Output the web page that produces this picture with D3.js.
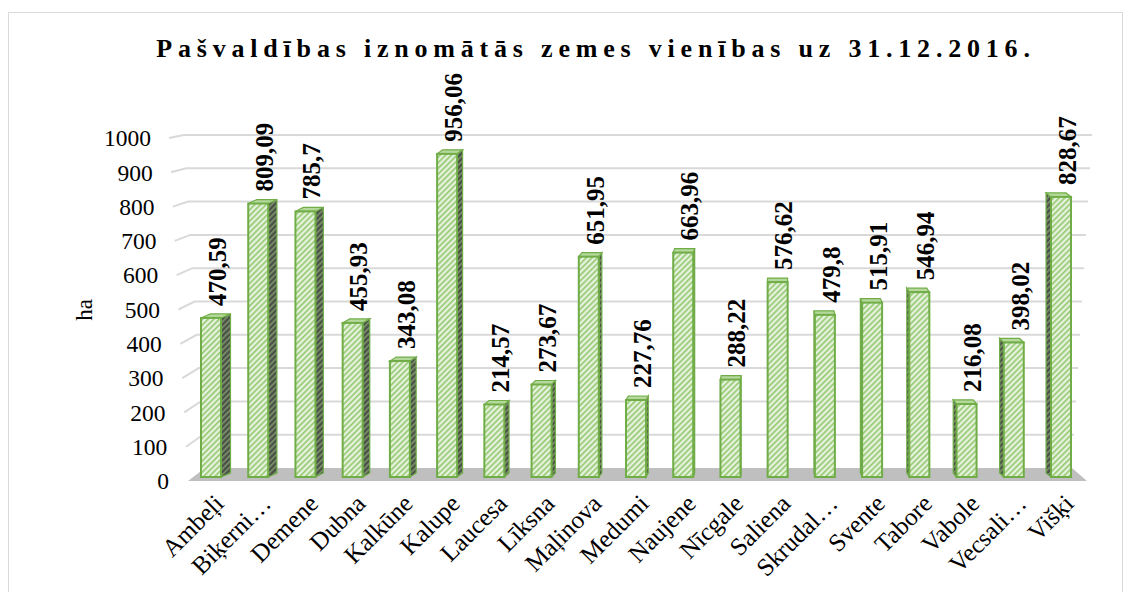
<!DOCTYPE html>
<html>
<head>
<meta charset="utf-8">
<script src="https://cdn.jsdelivr.net/npm/d3@7"></script>
<style>
  body { margin: 0; background: #fff; }
</style>
</head>
<body>
<script>
var svgWidth = 1130;
var svgHeight = 592;

// data
var categories = ["Ambeļi", "Biķerni…", "Demene", "Dubna", "Kalkūne", "Kalupe", "Laucesa",
  "Līksna", "Maļinova", "Medumi", "Naujene", "Nīcgale", "Saliena", "Skrudal…",
  "Svente", "Tabore", "Vabole", "Vecsali…", "Višķi"];
var values = [470.59, 809.09, 785.7, 455.93, 343.08, 956.06, 214.57, 273.67, 651.95,
  227.76, 663.96, 288.22, 576.62, 479.8, 515.91, 546.94, 216.08, 398.02, 828.67];
var yTicks = [0, 100, 200, 300, 400, 500, 600, 700, 800, 900, 1000];
var titleText = "Pašvaldības iznomātās zemes vienības uz 31.12.2016.";
var yTitle = "ha";

var serif = "'Liberation Serif', 'Times New Roman', 'DejaVu Serif', serif";

var svg = d3.select("body")
  .append("svg")
  .attr("width", svgWidth)
  .attr("height", svgHeight)
  .style("font-family", serif);

// patterns
var defs = svg.append("defs");
var pat = defs.append("pattern")
  .attr("id", "hatch")
  .attr("patternUnits", "userSpaceOnUse")
  .attr("width", 4).attr("height", 4)
  .attr("patternTransform", "rotate(45)");
pat.append("rect").attr("width", 4).attr("height", 4).attr("fill", "#e6f2dd");
pat.append("rect").attr("width", 1.6).attr("height", 4).attr("fill", "#92c86e");

var patSide = defs.append("pattern")
  .attr("id", "hatchSide")
  .attr("patternUnits", "userSpaceOnUse")
  .attr("width", 4).attr("height", 4)
  .attr("patternTransform", "rotate(45)");
patSide.append("rect").attr("width", 4).attr("height", 4).attr("fill", "#4a4f47");
patSide.append("rect").attr("width", 1.5).attr("height", 4).attr("fill", "#7f9a6d");

// outer border
svg.append("rect")
  .attr("x", 8.5).attr("y", 12.5)
  .attr("width", 1114).attr("height", 590)
  .attr("fill", "none")
  .attr("stroke", "#d9d9d9");

// scales (3D-ish: back wall, front edge, bars)
var yBack = d3.scaleLinear().domain([0, 1000]).range([468, 135]);
var yFront = d3.scaleLinear().domain([0, 1000]).range([481, 138]);
var yBar = d3.scaleLinear().domain([0, 1000]).range([477, 139]);
var xBackL = d3.scaleLinear().domain([0, 1000]).range([205, 184]);
var xBackR = d3.scaleLinear().domain([0, 1000]).range([1072, 1092]);
var xFrontL = d3.scaleLinear().domain([0, 1000]).range([188, 169]);
var xTickLab = d3.scaleLinear().domain([0, 1000]).range([169, 151]);
var x = d3.scalePoint().domain(categories).range([211, 1061]);

// gridlines
var grid = svg.append("g").attr("class", "grid");
yTicks.filter(function(d) { return d > 0; }).forEach(function(d) {
  grid.append("polyline")
    .attr("points", [[xFrontL(d), yFront(d)], [xBackL(d), yBack(d)], [xBackR(d), yBack(d)]].join(" "))
    .attr("fill", "none")
    .attr("stroke", "#d9d9d9")
    .attr("stroke-width", 2);
});

// floor
svg.append("polygon")
  .attr("points", [[xBackL(0), yBack(0)], [xBackR(0), yBack(0)], [1087, yFront(0)], [xFrontL(0), yFront(0)]].join(" "))
  .attr("fill", "#bfbfbf");

// y tick labels
svg.append("g").selectAll("text")
  .data(yTicks)
  .join("text")
  .attr("x", function(d) { return xTickLab(d); })
  .attr("y", function(d) { return yFront(d); })
  .attr("dy", "0.35em")
  .attr("text-anchor", "end")
  .attr("font-family", serif)
  .attr("font-size", 23.5)
  .attr("fill", "#000")
  .text(function(d) { return d; });

// y axis title
svg.append("text")
  .attr("transform", "translate(84,310) rotate(-90)")
  .attr("text-anchor", "middle")
  .attr("dy", "0.35em")
  .attr("font-family", serif)
  .attr("font-size", 23)
  .text(yTitle);

// bars
var halfW = 10, depth = 4, vanish = 770, k = 0.017;
var bars = svg.append("g").selectAll("g")
  .data(categories.map(function(c, i) { return {cat: c, val: values[i]}; }))
  .join("g");

bars.each(function(d) {
  var g = d3.select(this);
  var cx = x(d.cat);
  var x0 = cx - halfW, x1 = cx + halfW;
  var yt = yBar(d.val), yb = yBar(0);
  var s = k * (vanish - cx);
  var sx = s > 0 ? x1 : x0;
  // side face
  g.append("polygon")
    .attr("points", [[sx, yb], [sx + s, yb - depth], [sx + s, yt - depth], [sx, yt]].join(" "))
    .attr("fill", "url(#hatchSide)")
    .attr("stroke", "#70ad47")
    .attr("stroke-width", 1.2);
  // top cap
  g.append("polygon")
    .attr("points", [[x0, yt], [x1, yt], [x1 + s, yt - depth], [x0 + s, yt - depth]].join(" "))
    .attr("fill", "#b5d99c")
    .attr("stroke", "#70ad47")
    .attr("stroke-width", 1.2);
  // front face
  g.append("rect")
    .attr("x", x0).attr("y", yt)
    .attr("width", x1 - x0).attr("height", yb - yt)
    .attr("fill", "url(#hatch)")
    .attr("stroke", "#70ad47")
    .attr("stroke-width", 2);
});

// value labels
svg.append("g").selectAll("text")
  .data(values)
  .join("text")
  .attr("transform", function(d, i) {
    return "translate(" + (x(categories[i]) + 6) + "," + (yBar(d) - 12) + ") rotate(-90)";
  })
  .attr("dy", "0.35em")
  .attr("font-family", serif)
  .attr("font-size", 25)
  .attr("font-weight", "bold")
  .text(function(d) { return String(d).replace(".", ","); });

// category labels
svg.append("g").selectAll("text")
  .data(categories)
  .join("text")
  .attr("transform", function(d) {
    return "translate(" + (x(d) + 8) + ",499) rotate(-45)";
  })
  .attr("text-anchor", "end")
  .attr("dy", "0.35em")
  .attr("font-family", serif)
  .attr("font-size", 25)
  .text(function(d) { return d; });

// title
svg.append("text")
  .attr("x", 596)
  .attr("y", 57)
  .attr("text-anchor", "middle")
  .attr("font-family", serif)
  .attr("font-size", 26)
  .attr("font-weight", "bold")
  .attr("letter-spacing", 5.8)
  .text(titleText);
</script>
</body>
</html>
